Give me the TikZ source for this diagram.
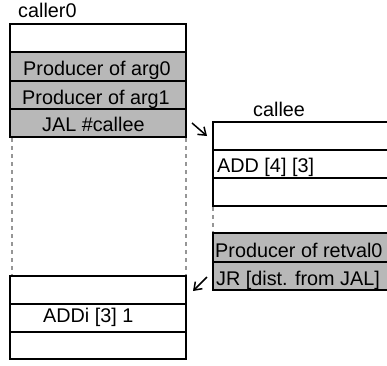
\documentclass[tikz,border=0pt]{standalone}
\usepackage{fontspec}
\setmainfont{Liberation Sans}
\usetikzlibrary{arrows.meta}
\definecolor{cellgray}{RGB}{184,184,184}
\definecolor{guide}{RGB}{150,150,150}
\begin{document}
\begin{tikzpicture}[x=1pt,y=-1pt,
  cellline/.style={draw=black, line width=1.8pt},
  graycell/.style={cellline, fill=cellgray},
  txt/.style={anchor=base west, inner sep=0pt, font=\fontsize{19.8}{22}\selectfont},
  guideline/.style={draw=guide, line width=1.2pt, dash pattern=on 3.5pt off 4.5pt},
  hop/.style={line width=1.5pt, -{Straight Barb[length=7pt,width=10pt,line width=1.5pt]}}]
\useasboundingbox (0,0) rectangle (387,365);
\clip (0,0) rectangle (387,365);

% caller, upper part
\node[txt] (callerlbl) at (18,17) {caller0};
\path[cellline] (10,24) rectangle (186,52);
\path[graycell] (10,52) rectangle (186,81);
\path[graycell] (10,81) rectangle (186,109);
\path[graycell] (10,109) rectangle (186,137);
\node[txt] (arg0) at (23,75) {Producer of arg0};
\node[txt] (arg1) at (22,104) {Producer of arg1};
\node[txt] (jal) at (42,131) {JAL \#callee};

% guides down to the return point
\path[guideline] (12,138) -- (12,276);
\path[guideline] (186,138) -- (186,276);
\path[guideline] (213,207) -- (213,233);

% callee
\node[txt] (calleelbl) at (253,116) {callee};
\path[cellline] (213,122) rectangle (392,150);
\path[cellline] (213,150) rectangle (392,178);
\path[cellline] (213,178) rectangle (392,206);
\node[txt] (add) at (217,172) {ADD [4] [3]};
\path[graycell] (213,233) rectangle (392,262);
\path[graycell] (213,262) rectangle (392,290);
\node[txt] (retval) at (215,257) {Producer of retval0};
\node[txt] (jr) at (216,285) {JR [dist. from JAL]};

% caller, after the return
\path[cellline] (10,276) rectangle (186,304);
\path[cellline] (10,304) rectangle (186,332);
\path[cellline] (10,332) rectangle (186,359);
\node[txt] (addi) at (43,322) {ADDi [3] 1};

% call and return marks
\coordinate (callfrom) at (192,123);
\coordinate (callto) at (207,136);
\coordinate (retfrom) at (207,277);
\coordinate (retto) at (193,291);
\draw[hop] (callfrom) -- (callto);
\draw[hop] (retfrom) -- (retto);
\end{tikzpicture}
\end{document}
